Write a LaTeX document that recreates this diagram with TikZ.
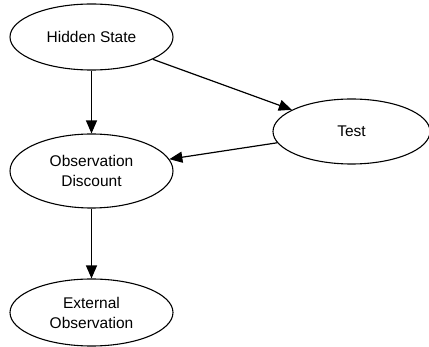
\documentclass[tikz,border=0pt]{standalone}
\usepackage{fontspec}
\setmainfont{Liberation Sans}
\usetikzlibrary{shapes.geometric,arrows.meta}
\begin{document}
\begin{tikzpicture}[x=1pt,y=-1pt,
  state/.style={draw, ellipse, line width=1.1pt, inner sep=0pt, align=center,
    font=\fontsize{15.5}{20}\selectfont},
  conn/.style={draw, line width=1.2pt, -{Triangle[length=13pt,width=11pt]}}]
\useasboundingbox (0,0) rectangle (429,347);
\node[state, minimum width=163pt, minimum height=66pt] (hs) at (91.5,37) {Hidden State};
\node[state, minimum width=157pt, minimum height=65pt] (test) at (351.5,131.5) {Test};
\node[state, minimum width=163pt, minimum height=74pt] (od) at (91.5,171) {Observation\\Discount};
\node[state, minimum width=163pt, minimum height=67pt] (eo) at (91.5,312.5) {External\\Observation};
\draw[conn] (hs) -- (od);
\draw[conn] (hs) -- (test);
\draw[conn] (test) -- (od);
\draw[conn] (od) -- (eo);
\end{tikzpicture}
\end{document}
